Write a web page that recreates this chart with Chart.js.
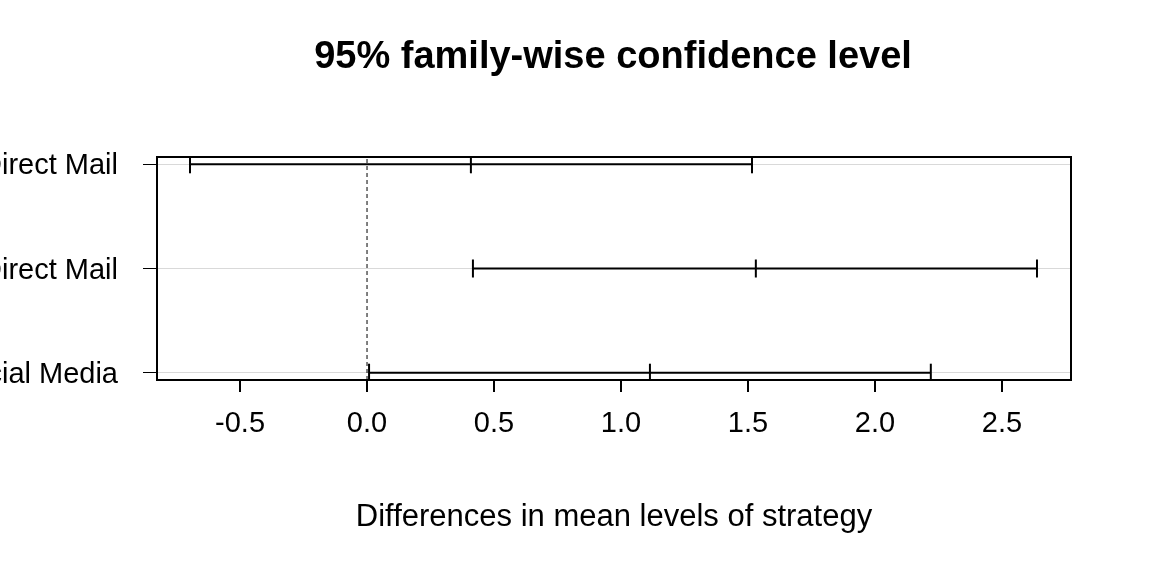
<!DOCTYPE html>
<html>
<head>
<meta charset="utf-8">
<script src="https://cdn.jsdelivr.net/npm/chart.js@4"></script>
<style>
  html, body { margin: 0; padding: 0; background: #fff; }
  #wrap { width: 1152px; height: 576px; }
</style>
</head>
<body>
<div id="wrap"><canvas id="tukeyChart" width="1152" height="576"></canvas></div>
<script>
// comparisons, top to bottom
var comparisons = ['Social Media-Direct Mail', 'Word of Mouth-Direct Mail', 'Word of Mouth-Social Media'];
var rowPos = [3, 2, 1];
var diffLwr = [-0.697, 0.417, 0.008];
var diffMid = [0.409, 1.531, 1.114];
var diffUpr = [1.516, 2.638, 2.220];
var xTicks = [-0.5, 0.0, 0.5, 1.0, 1.5, 2.0, 2.5];

var FONT = '"Liberation Sans", Arial, sans-serif';

var datasets = [];
comparisons.forEach(function(name, i) {
    datasets.push({
        label: name,
        data: [{ x: diffLwr[i], y: rowPos[i] }, { x: diffMid[i], y: rowPos[i] }, { x: diffUpr[i], y: rowPos[i] }],
        showLine: true,
        borderColor: '#000',
        borderWidth: 2,
        pointStyle: 'line',
        pointRotation: 90,
        pointRadius: 9,
        pointBorderColor: '#000',
        pointBorderWidth: 2
    });
});
datasets.push({
    label: 'zero',
    data: [{ x: 0, y: 0.93 }, { x: 0, y: 3.07 }],
    showLine: true,
    borderColor: '#000',
    borderWidth: 1,
    borderDash: [4, 3],
    pointRadius: 0
});

var framePlugin = {
    id: 'frame',
    afterDraw: function(chart) {
        var c = chart.ctx, a = chart.chartArea, y = chart.scales.y;
        c.save();
        c.strokeStyle = '#000';
        c.lineWidth = 2;
        c.strokeRect(a.left, a.top, a.right - a.left, a.bottom - a.top);
        c.fillStyle = '#000';
        c.textBaseline = 'middle';
        c.font = 'bold 38px ' + FONT;
        c.textAlign = 'center';
        c.fillText('95% family-wise confidence level', 613, 58);
        c.font = '31px ' + FONT;
        c.fillText('Differences in mean levels of strategy', 614, 517);
        c.font = '29px ' + FONT;
        c.textAlign = 'right';
        comparisons.forEach(function(name, i) {
            c.fillText(name, 118, y.getPixelForValue(rowPos[i]) + 2);
        });
        c.restore();
    }
};

new Chart(document.getElementById('tukeyChart'), {
    type: 'scatter',
    data: { datasets: datasets },
    plugins: [framePlugin],
    options: {
        responsive: false,
        animation: false,
        layout: { padding: { top: 157, right: 81, left: 0, bottom: 0 } },
        plugins: { legend: { display: false }, tooltip: { enabled: false } },
        scales: {
            x: {
                type: 'linear',
                min: -0.827,
                max: 2.772,
                afterBuildTicks: function(s) { s.ticks = xTicks.map(function(v) { return { value: v }; }); },
                afterFit: function(s) { s.height = 196; },
                border: { display: false },
                grid: { drawOnChartArea: false, tickLength: 12, tickColor: '#000', lineWidth: 2 },
                ticks: { color: '#000', padding: 15, font: { family: FONT, size: 29 },
                    callback: function(v) { return Number(v).toFixed(1); } }
            },
            y: {
                type: 'linear',
                min: 0.93,
                max: 3.07,
                afterBuildTicks: function(s) { s.ticks = [1, 2, 3].map(function(v) { return { value: v }; }); },
                afterFit: function(s) { s.width = 157; },
                border: { display: false },
                grid: { color: '#d9d9d9', lineWidth: 1, tickLength: 14, tickColor: '#000' },
                ticks: { display: false }
            }
        }
    }
});
</script>
</body>
</html>
